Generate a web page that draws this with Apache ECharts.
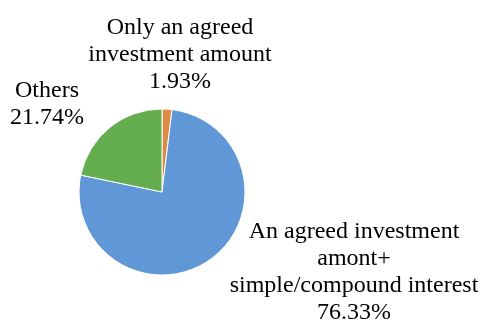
<!DOCTYPE html>
<html>
<head>
<meta charset="utf-8">
<script src="https://cdn.jsdelivr.net/npm/echarts@6/dist/echarts.min.js"></script>
<style>
html,body{margin:0;padding:0;background:#fff;}
#c{width:481px;height:325px;}
</style>
</head>
<body>
<div id="c"></div>
<script>
const categories = [
  'Only an agreed\ninvestment amount',
  'An agreed investment\namont+\nsimple/compound interest',
  'Others'
];
const values = [1.93, 76.33, 21.74];
const colors = ['#dc8b45', '#5f97d7', '#64ae50'];
const labelPos = [[180, 55], [354, 272], [47, 104]];

const chart = echarts.init(document.getElementById('c'), null, {renderer: 'canvas'});
chart.setOption({
  animation: false,
  backgroundColor: '#ffffff',
  series: [{
    type: 'pie',
    center: [162, 192],
    radius: 83,
    startAngle: 90,
    clockwise: true,
    avoidLabelOverlap: false,
    data: categories.map((n, i) => ({name: n, value: values[i], itemStyle: {color: colors[i]}})),
    itemStyle: {borderColor: '#ffffff', borderWidth: 1},
    label: {
      show: true,
      position: 'outside',
      formatter: p => p.name + '\n' + values[p.dataIndex].toFixed(2) + '%',
      fontFamily: '"Liberation Serif", "Times New Roman", serif',
      fontSize: 24,
      lineHeight: 27,
      color: '#000000',
      align: 'center'
    },
    labelLine: {show: false},
    labelLayout: function (params) {
      const p = labelPos[params.dataIndex];
      return {x: p[0], y: p[1], align: 'center', verticalAlign: 'middle'};
    }
  }]
});
</script>
</body>
</html>
